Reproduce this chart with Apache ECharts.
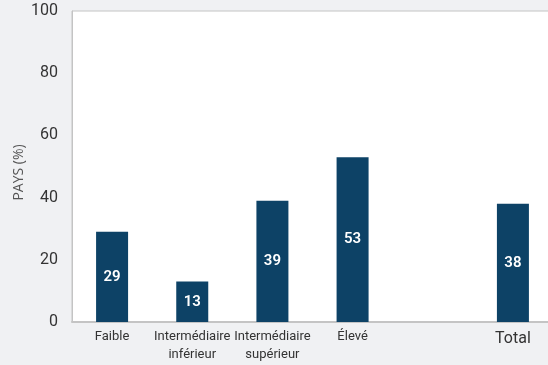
<!DOCTYPE html>
<html>
<head>
<meta charset="utf-8">
<script src="https://cdn.jsdelivr.net/npm/echarts@6/dist/echarts.min.js"></script>
<style>
html,body{margin:0;padding:0;background:#f0f1f3;}
#c{width:548px;height:365px;}
</style>
</head>
<body>
<div id="c"></div>
<script>
const categories = ['Faible', 'Intermédiaire\ninférieur', 'Intermédiaire\nsupérieur', 'Élevé', '', 'Total'];
const values = [29, 13, 39, 53, null, 38];
const yTicks = [0, 20, 40, 60, 80, 100];
const yAxisName = 'PAYS (%)';

const chart = echarts.init(document.getElementById('c'), null, {renderer: 'canvas'});
chart.setOption({
  backgroundColor: '#f0f1f3',
  textStyle: {fontFamily: 'Roboto'},
  grid: {
    left: 72, top: 11, bottom: 43, right: -5,
    containLabel: false, outerBoundsMode: 'none',
    show: true, backgroundColor: '#ffffff', borderColor: '#c4c4c4', borderWidth: 1
  },
  xAxis: {
    type: 'category',
    data: categories,
    axisLine: {show: true, lineStyle: {color: '#c4c4c4', width: 2}},
    axisTick: {show: false},
    axisLabel: {
      color: '#333', fontSize: 13, lineHeight: 18, margin: 6, interval: 0,
      fontFamily: 'Roboto',
      formatter: function (v) { return v === 'Total' ? '{t|Total}' : v; },
      rich: {t: {fontSize: 16, color: '#333', fontFamily: 'Roboto', padding: [3, 0, 0, 0]}}
    }
  },
  yAxis: {
    type: 'value',
    min: yTicks[0], max: yTicks[yTicks.length - 1], interval: 20,
    name: yAxisName,
    nameLocation: 'middle',
    nameGap: 46,
    nameRotate: 90,
    nameMoveOverlap: false,
    nameTextStyle: {color: '#555', fontSize: 14, fontFamily: 'Open Sans', padding: [0, 12, 0, 0]},
    axisLine: {show: true, lineStyle: {color: '#c4c4c4', width: 1}},
    axisTick: {show: false},
    splitLine: {show: false},
    axisLabel: {color: '#333', fontSize: 16, margin: 14, fontFamily: 'Roboto'}
  },
  series: [{
    type: 'bar',
    data: values,
    barWidth: 32,
    itemStyle: {color: '#0d4266'},
    label: {
      show: true, position: 'inside', color: '#ffffff',
      fontSize: 15, fontWeight: 600, fontFamily: 'Roboto'
    }
  }]
});
</script>
</body>
</html>
